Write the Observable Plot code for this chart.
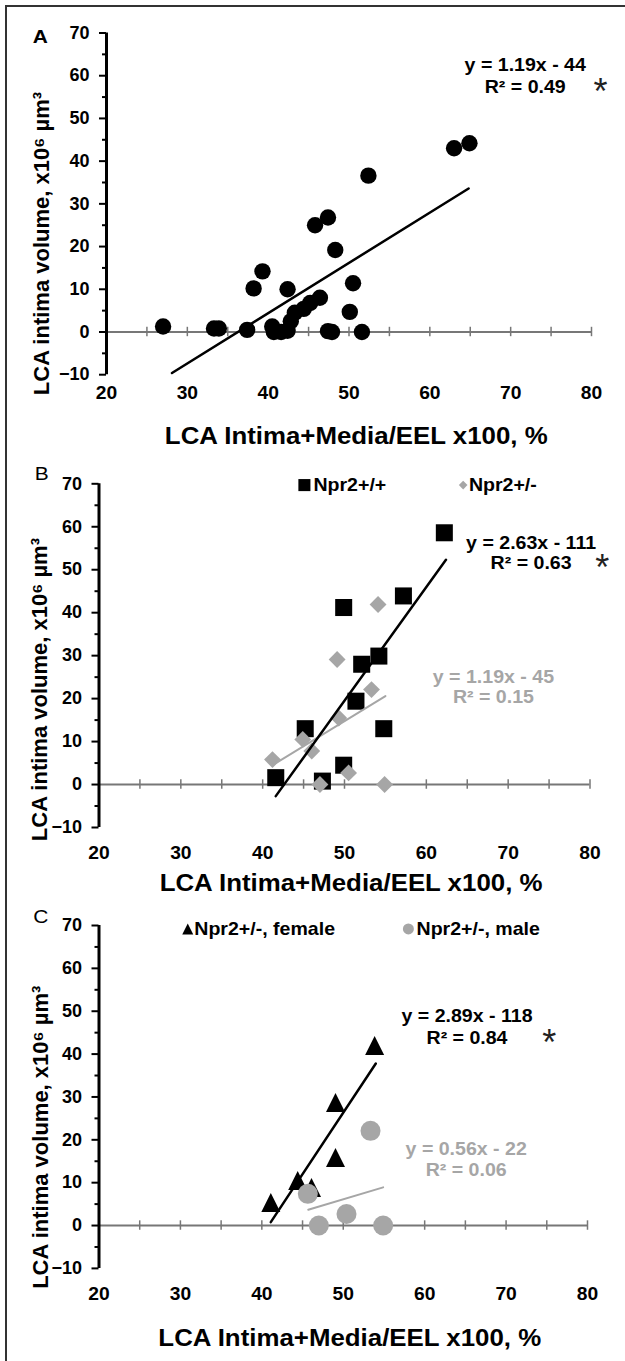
<!DOCTYPE html>
<html>
<head>
<meta charset="utf-8">
<script src="https://cdn.jsdelivr.net/npm/d3@7"></script>
<script src="https://cdn.jsdelivr.net/npm/@observablehq/plot@0.6"></script>
<style>
  html, body { margin: 0; padding: 0; background: #fff; }
  body { width: 625px; height: 1361px; overflow: hidden; position: relative; }
  #frame { position: absolute; left: 5px; top: 5px; width: 700px; height: 1420px; border: 2px solid #333; box-sizing: border-box; }
  .panel { position: absolute; left: 0; }
</style>
</head>
<body>
<div id="frame"></div>
<div id="root"></div>
<script>
// ---------- shared axis values ----------
const xTickLabels = [20, 30, 40, 50, 60, 70, 80];
const xAxisTicks = [25, 30, 35, 40, 45, 50, 55, 60, 65, 70, 75, 80];
const yTickLabels = [-10, 0, 10, 20, 30, 40, 50, 60, 70];
const yMinorTicks = [-5, 5, 15, 25, 35, 45, 55, 65];
const xTitle = "LCA Intima+Media/EEL x100, %";
const yTitle = "LCA intima volume, x10⁶ µm³";

// ---------- Panel A: all mice ----------
const aX = [27.0, 33.3, 33.9, 37.4, 38.2, 39.3, 40.5, 40.7, 41.6, 42.4, 42.4, 42.8, 43.3, 44.4, 45.2, 46.4, 45.8, 47.4, 47.4, 47.9, 48.3, 50.1, 50.5, 51.6, 52.4, 63.0, 64.9];
const aY = [1.3, 0.8, 0.8, 0.5, 10.2, 14.2, 1.3, 0.0, 0.0, 0.3, 10.0, 2.5, 4.5, 5.4, 6.8, 8.0, 25.0, 26.8, 0.2, 0.0, 19.2, 4.7, 11.4, 0.0, 36.6, 43.0, 44.2];
const aFitX = [28.1, 64.8];
const aFitY = [-9.6, 33.6];
const aEquation = "y = 1.19x - 44";
const aR2 = "R² = 0.49";

// ---------- Panel B: by genotype ----------
const bSeries = ["Npr2+/+", "Npr2+/-"];
const bWtX = [41.6, 45.2, 47.3, 49.9, 49.9, 52.1, 51.4, 54.2, 54.8, 57.2, 62.2];
const bWtY = [1.6, 13.0, 0.8, 41.2, 4.5, 28.0, 19.4, 29.9, 13.0, 43.9, 58.6];
const bHetX = [41.2, 44.9, 46.0, 47.0, 49.1, 49.3, 50.5, 53.3, 54.1, 54.9];
const bHetY = [5.8, 10.5, 7.8, 0.0, 29.1, 15.5, 2.7, 22.1, 41.9, 0.0];
const bWtFitX = [41.6, 62.4];
const bWtFitY = [-2.7, 52.3];
const bHetFitX = [41.2, 55.0];
const bHetFitY = [4.5, 20.6];
const bWtEquation = "y = 2.63x - 111";
const bWtR2 = "R² = 0.63";
const bHetEquation = "y = 1.19x - 45";
const bHetR2 = "R² = 0.15";

// ---------- Panel C: Npr2+/- by sex ----------
const cSeries = ["Npr2+/-, female", "Npr2+/-, male"];
const cFemX = [41.1, 44.4, 46.1, 49.05, 49.05, 53.85];
const cFemY = [5.4, 10.5, 8.9, 15.9, 28.7, 42.0];
const cMaleX = [45.65, 47.0, 50.4, 53.35, 54.9];
const cMaleY = [7.4, 0.0, 2.7, 22.1, 0.0];
const cFemFitX = [41.1, 54.0];
const cFemFitY = [0.8, 37.8];
const cMaleFitX = [45.7, 54.9];
const cMaleFitY = [3.7, 8.9];
const cFemEquation = "y = 2.89x - 118";
const cFemR2 = "R² = 0.84";
const cMaleEquation = "y = 0.56x - 22";
const cMaleR2 = "R² = 0.06";

// ---------- helpers ----------
const FONT = "'Liberation Sans', Arial, Helvetica, sans-serif";
const GRAY = "#a6a6a6";
const AXGRAY = "#777";
const STRETCH = 1.1;
const pts = (xs, ys) => xs.map((x, i) => ({x, y: ys[i]}));
const triangle = {
  draw(ctx, size) {
    const r = Math.sqrt(size / Math.PI);
    ctx.moveTo(0, -r); ctx.lineTo(r, r); ctx.lineTo(-r, r); ctx.closePath();
  }
};

function axes(o) {
  return [
    Plot.ruleY([0], {x1: 20, x2: 80, stroke: AXGRAY, strokeWidth: 2}),
    Plot.ruleX(xAxisTicks, {x: d => d, y1: -1.1, y2: 1.1, stroke: AXGRAY, strokeWidth: 1.5}),
    Plot.axisY(yMinorTicks, {tickSize: 4, tickFormat: () => "", label: null, strokeWidth: 2}),
    Plot.axisY(yTickLabels, {tickSize: 7, tickPadding: 10, fontSize: 18, fontWeight: "bold", label: null, strokeWidth: 2}),
    Plot.ruleX([20], {y1: -10, y2: 70, stroke: "black", strokeWidth: 3}),
    Plot.axisX(xTickLabels, {tickSize: 0, tickPadding: o.xPad, fontSize: 17.5, fontWeight: "bold", label: null}),
    Plot.text([xTitle], {x: o.xtX, y: o.xtY, text: d => d, fontSize: 23.5, fontWeight: "bold", lineAnchor: "middle", fill: "black"}),
    Plot.text([yTitle], {x: o.ytX, y: o.ytY, text: d => d, rotate: -90, fontSize: 22, fontWeight: "bold", lineAnchor: "middle", fill: "black"}),
    Plot.text([o.letter], {x: o.lX, y: o.lY, text: d => d, fontSize: 19, fontWeight: o.letterWeight, lineAnchor: "middle", fill: "black"})
  ];
}

function eqMarks(eq, r2, x, y1, y2, color, starX) {
  const m = [
    Plot.text([eq], {x, y: y1, text: d => d, fontSize: 17.8, fontWeight: "bold", fill: color, lineAnchor: "middle"}),
    Plot.text([r2], {x, y: y2, text: d => d, fontSize: 17.8, fontWeight: "bold", fill: color, lineAnchor: "middle"})
  ];
  if (starX != null) m.push(Plot.text(["*"], {x: starX, y: y2, text: d => d, fontSize: 36, fontWeight: "normal", fill: "#222", lineAnchor: "middle", dy: 5}));
  return m;
}

function panel(top, height, mt, mb, ml, mr, marks) {
  const svg = Plot.plot({
    width: 625, height,
    marginTop: mt, marginBottom: mb, marginLeft: ml, marginRight: mr,
    x: {domain: [20, 80]},
    y: {domain: [-10, 70]},
    style: {fontFamily: FONT, background: "transparent", overflow: "visible", color: "black"},
    marks
  });
  svg.classList.add("panel");
  svg.style.position = "absolute";
  svg.style.top = top + "px";
  svg.style.left = "0px";
  document.getElementById("root").appendChild(svg);
  // widen horizontal text slightly, as in the source figure
  svg.querySelectorAll("text").forEach(t => {
    const tr = (t.getAttribute("transform") || "") + ((t.parentNode && t.parentNode.getAttribute && t.parentNode.getAttribute("transform")) || "");
    if (tr.includes("rotate")) return;
    const g = t.closest("g[aria-label]");
    if (g && /y-axis/.test(g.getAttribute("aria-label"))) return;
    if (!t.textContent || t.textContent === "*") return;
    const L = t.getComputedTextLength();
    if (L > 0) {
      t.setAttribute("textLength", (L * STRETCH).toFixed(2));
      t.setAttribute("lengthAdjust", "spacingAndGlyphs");
    }
  });
}

// ---------- Panel A ----------
panel(0, 449, 32.5, 74.8, 106, 34, [
  ...axes({xPad: 12, xtX: 50.9, xtY: -24.5, ytX: 12.0, ytY: 20.7, letter: "A", lX: 11.8, lY: 69.2, letterWeight: "bold"}),
  Plot.dot(pts(aX, aY), {x: "x", y: "y", r: 8.2, fill: "black", stroke: "none"}),
  Plot.line(pts(aFitX, aFitY), {x: "x", y: "y", stroke: "black", strokeWidth: 2.5}),
  ...eqMarks(aEquation, aR2, 71.8, 62.4, 57.2, "black", 81.1)
]);

// ---------- Panel B ----------
panel(449, 449, 34.3, 71, 98.5, 35.5, [
  ...axes({xPad: 19, xtX: 50.8, xtY: -23.0, ytX: 12.8, ytY: 22.1, letter: "B", lX: 13.0, lY: 72.3, letterWeight: "normal"}),
  Plot.dot(pts(bWtX, bWtY), {x: "x", y: "y", r: 9.6, symbol: "square", fill: "black", stroke: "none"}),
  Plot.dot(pts(bHetX, bHetY), {x: "x", y: "y", r: 7.6, symbol: "diamond2", fill: GRAY, stroke: "none"}),
  Plot.line(pts(bHetFitX, bHetFitY), {x: "x", y: "y", stroke: GRAY, strokeWidth: 2}),
  Plot.line(pts(bWtFitX, bWtFitY), {x: "x", y: "y", stroke: "black", strokeWidth: 2.5}),
  ...eqMarks(bWtEquation, bWtR2, 72.8, 56.1, 51.4, "black", 81.5),
  ...eqMarks(bHetEquation, bHetR2, 68.2, 25.0, 20.2, GRAY, null),
  // legend
  Plot.dot([bSeries[0]], {x: 45.1, y: 69.7, r: 6.8, symbol: "square", fill: "black", stroke: "none"}),
  Plot.text([bSeries[0]], {x: 46.2, y: 69.7, text: d => d, textAnchor: "start", fontSize: 17.8, fontWeight: "bold", fill: "black", lineAnchor: "middle"}),
  Plot.dot([bSeries[1]], {x: 64.5, y: 69.7, r: 3.9, symbol: "diamond2", fill: GRAY, stroke: "none"}),
  Plot.text([bSeries[1]], {x: 65.2, y: 69.7, text: d => d, textAnchor: "start", fontSize: 17.8, fontWeight: "bold", fill: "black", lineAnchor: "middle"})
]);

// ---------- Panel C ----------
panel(898, 463, 27, 93.1, 98.5, 38, [
  ...axes({xPad: 19, xtX: 50.8, xtY: -26.4, ytX: 12.9, ytY: 20.6, letter: "C", lX: 12.85, lY: 71.9, letterWeight: "normal"}),
  Plot.dot(pts(cFemX, cFemY), {x: "x", y: "y", r: 9.5, symbol: triangle, fill: "black", stroke: "none"}),
  Plot.dot(pts(cMaleX, cMaleY), {x: "x", y: "y", r: 10, fill: GRAY, stroke: "none"}),
  Plot.line(pts(cMaleFitX, cMaleFitY), {x: "x", y: "y", stroke: GRAY, strokeWidth: 2}),
  Plot.line(pts(cFemFitX, cFemFitY), {x: "x", y: "y", stroke: "black", strokeWidth: 2.5}),
  ...eqMarks(cFemEquation, cFemR2, 65.2, 48.8, 43.6, "black", 75.3),
  ...eqMarks(cMaleEquation, cMaleR2, 65.1, 17.9, 13.0, GRAY, null),
  // legend
  Plot.dot([cSeries[0]], {x: 30.9, y: 69.2, r: 5.5, symbol: triangle, fill: "black", stroke: "none"}),
  Plot.text([cSeries[0]], {x: 31.7, y: 69.2, text: d => d, textAnchor: "start", fontSize: 17.8, fontWeight: "bold", fill: "black", lineAnchor: "middle"}),
  Plot.dot([cSeries[1]], {x: 58.0, y: 69.2, r: 5.5, fill: GRAY, stroke: "none"}),
  Plot.text([cSeries[1]], {x: 59.0, y: 69.2, text: d => d, textAnchor: "start", fontSize: 17.8, fontWeight: "bold", fill: "black", lineAnchor: "middle"})
]);
</script>
</body>
</html>
